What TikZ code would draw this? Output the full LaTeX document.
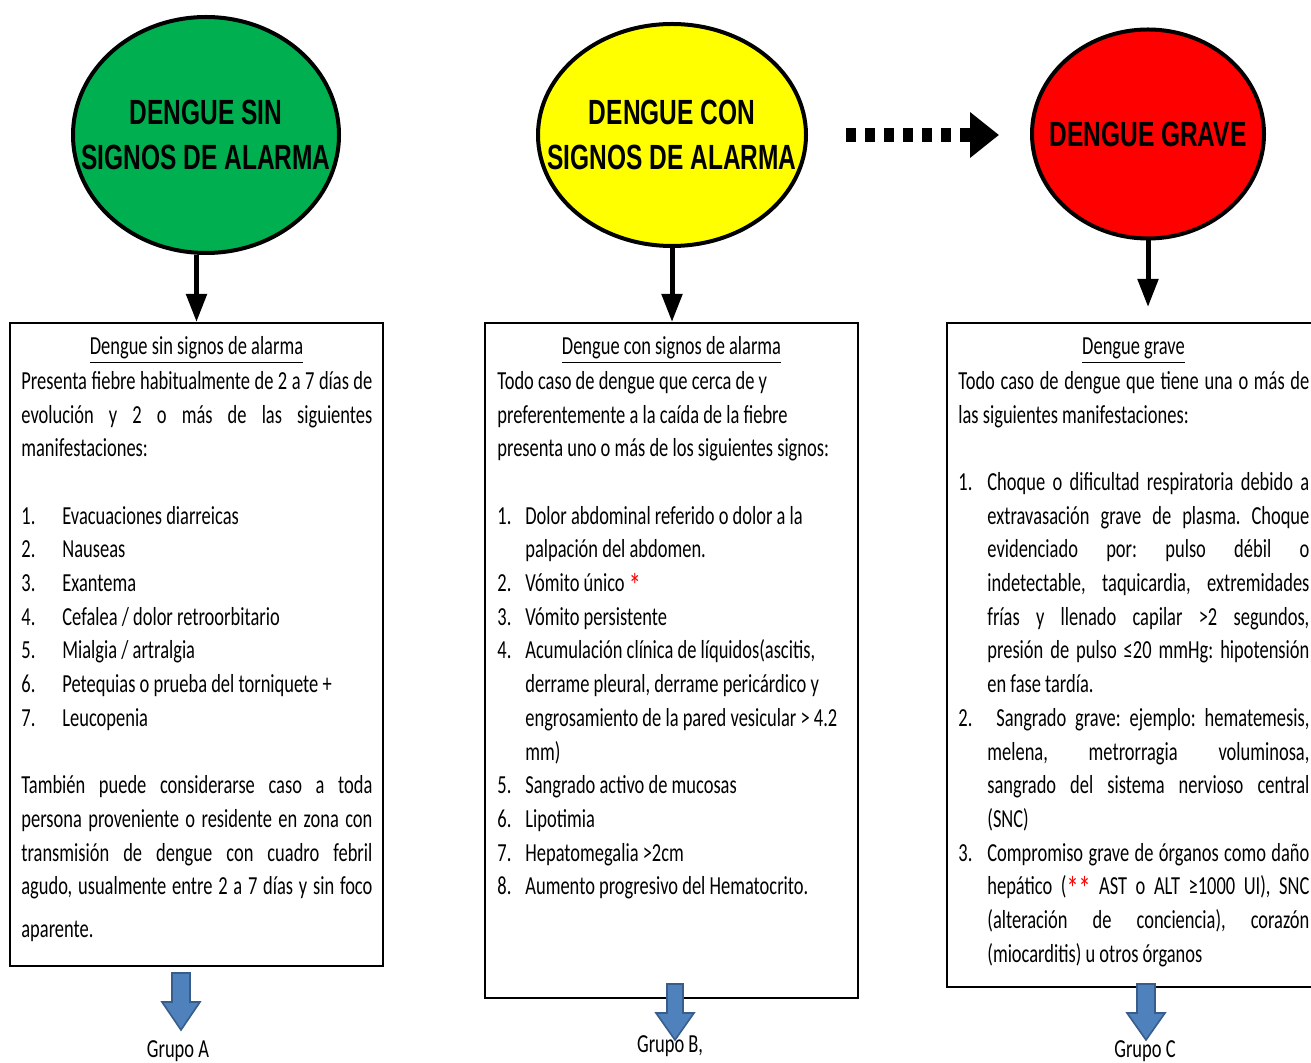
\documentclass[tikz,border=0pt]{standalone}
\usepackage{fontspec}
\setmainfont{Carlito}[FakeStretch=0.71]
\newfontfamily\rotulofont{Liberation Sans}[FakeStretch=0.70]
\usetikzlibrary{shapes.geometric, arrows.meta, positioning}

\definecolor{verdefase}{HTML}{00B050}
\definecolor{amarillofase}{HTML}{FFFF00}
\definecolor{rojofase}{HTML}{FF0000}
\definecolor{azulflecha}{HTML}{4F81BD}
\definecolor{azulborde}{HTML}{385D8A}

\setlength{\parindent}{0pt}
\frenchspacing
\newcommand{\numitem}[2]{\par\noindent\hangindent=#1\hangafter=1\makebox[#1][l]{#2}}

\begin{document}
\begin{tikzpicture}[
    x=0.5pt, y=-0.5pt,
    fase/.style={ellipse, draw=black, line width=2pt, inner sep=0pt},
    rotulo/.style={font=\rotulofont\bfseries\fontsize{17.5}{22.5}\selectfont, align=center, inner sep=0pt},
    caja/.style={rectangle, draw=black, line width=1pt, minimum width=186.5pt, inner sep=0pt, anchor=north},
    titulo/.style={font=\fontsize{13}{16.85}\selectfont, anchor=base, inner sep=0pt},
    cuerpo/.style={font={\fontsize{13}{16.85}\selectfont\hyphenpenalty=10000}, text width=175.5pt, align=justify, inner sep=0pt, anchor=north west},
    flecha/.style={line width=2.5pt, -{Triangle[width=10pt,length=14pt]}},
    flechapunteada/.style={line width=7pt, dash pattern=on 5pt off 4.5pt, -{Triangle[width=22pt,length=14.5pt]}},
    grupoflecha/.style={draw=azulborde, fill=azulflecha, line width=0.8pt, line join=miter},
    grupo/.style={font=\fontsize{13}{16.85}\selectfont, anchor=base, inner sep=0pt}
]
\useasboundingbox (0,0) rectangle (1311,1063);

% Fases
\node[fase, fill=verdefase, minimum width=133pt, minimum height=118pt] (sin) at (206,135) {};
\node[fase, fill=amarillofase, minimum width=134pt, minimum height=111pt] (con) at (672,135) {};
\node[fase, fill=rojofase, minimum width=116pt, minimum height=104.5pt] (grave) at (1148,134) {};
\node[rotulo] (sinTxt) at (sin) {DENGUE SIN\\SIGNOS DE ALARMA};
\node[rotulo] (conTxt) at (con) {DENGUE CON\\SIGNOS DE ALARMA};
\node[rotulo] (graveTxt) at (grave) {DENGUE GRAVE};

% Cajas
\node[caja, minimum height=321.5pt] (cajaA) at (196.5,322) {};
\node[caja, minimum height=337.5pt] (cajaB) at (671.5,322) {};
\node[caja, minimum height=332pt] (cajaC) at (1133.5,322) {};

\node[titulo] (tituloA) at (196.5,355) {\underline{Dengue sin signos de alarma}};
\node[titulo] (tituloB) at (671.5,355) {\underline{Dengue con signos de alarma}};
\node[titulo] (tituloC) at (1133.5,355) {\underline{Dengue grave}};

\node[cuerpo] (textoA) at (21,367) {\rule{0pt}{11pt}Presenta fiebre habitualmente de 2 a 7 días de\linebreak
evolución y 2 o más de las siguientes\linebreak
manifestaciones:\par
\vspace{16.85pt}
\numitem{20.5pt}{1.}Evacuaciones diarreicas\par
\numitem{20.5pt}{2.}Nauseas\par
\numitem{20.5pt}{3.}Exantema\par
\numitem{20.5pt}{4.}Cefalea / dolor retroorbitario\par
\numitem{20.5pt}{5.}Mialgia / artralgia\par
\numitem{20.5pt}{6.}Petequias o prueba del torniquete +\par
\numitem{20.5pt}{7.}Leucopenia\par
\vspace{16.85pt}
También puede considerarse caso a toda\linebreak
persona proveniente o residente en zona con\linebreak
transmisión de dengue con cuadro febril\linebreak
agudo, usualmente entre 2 a 7 días y sin foco\vadjust{\vskip 4.65pt}\linebreak
aparente.\par};

\node[cuerpo] (textoB) at (497,367) {\rightskip=0pt plus 1fil\relax
\rule{0pt}{11pt}Todo caso de dengue que cerca de y\linebreak
preferentemente a la caída de la fiebre\linebreak
presenta uno o más de los siguientes signos:\par
\vspace{16.85pt}
\numitem{14pt}{1.}Dolor abdominal referido o dolor a la\linebreak palpación del abdomen.\par
\numitem{14pt}{2.}Vómito único \raisebox{-3pt}{\color{red}\fontsize{17}{16.85}\selectfont*}\par
\numitem{14pt}{3.}Vómito persistente\par
\numitem{14pt}{4.}Acumulación clínica de líquidos(ascitis,\linebreak derrame pleural, derrame pericárdico y\linebreak engrosamiento de la pared vesicular > 4.2\linebreak mm)\par
\numitem{14pt}{5.}Sangrado activo de mucosas\par
\numitem{14pt}{6.}Lipotimia\par
\numitem{14pt}{7.}Hepatomegalia >2cm\par
\numitem{14pt}{8.}Aumento progresivo del Hematocrito.\par};

\node[cuerpo] (textoC) at (958,367) {\rule{0pt}{11pt}Todo caso de dengue que tiene una o más de\linebreak
las siguientes manifestaciones:\par
\vspace{16.85pt}
\numitem{14.5pt}{1.}Choque o dificultad respiratoria debido a\linebreak
extravasación grave de plasma. Choque\linebreak
evidenciado por: pulso débil o\linebreak
indetectable, taquicardia, extremidades\linebreak
frías y llenado capilar >2 segundos,\linebreak
presión de pulso ≤20 mmHg: hipotensión\linebreak
en fase tardía.\par
\numitem{14.5pt}{2.}\ Sangrado grave: ejemplo: hematemesis,\linebreak
melena, metrorragia voluminosa,\linebreak
sangrado del sistema nervioso central\linebreak
(SNC)\par
\numitem{14.5pt}{3.}Compromiso grave de órganos como daño\linebreak
hepático (\raisebox{-3pt}{\color{red}\fontsize{17}{16.85}\selectfont**} AST o ALT ≥1000 UI), SNC\linebreak
(alteración de conciencia), corazón\linebreak
(miocarditis) u otros órganos\par};

% Flechas
\draw[flecha] (sin.south -| cajaA.north) -- (cajaA.north);
\draw[flecha] (con.south) -- (con.south |- cajaB.north);
\draw[flecha, shorten >=7.5pt] (grave.south) -- (grave.south |- cajaC.north);
\draw[flechapunteada, shorten <=19pt, shorten >=15.5pt] (con.east) -- (con.east -| grave.west);

% Grupos
\node[grupo] (grupoA) at (178,1057) {Grupo A};
\node[grupo] (grupoB) at (670,1052) {Grupo B,};
\node[grupo] (grupoC) at (1145,1057) {Grupo C};

\draw[grupoflecha, shift={(181,973)}] (-9,0) -- (9,0) -- (9,29) -- (19,29) -- (0,57) -- (-19,29) -- (-9,29) -- cycle;
\draw[grupoflecha, shift={(675,984)}] (-8,0) -- (8,0) -- (8,29) -- (19,29) -- (0,56) -- (-19,29) -- (-8,29) -- cycle;
\draw[grupoflecha, shift={(1146,984)}] (-9,0) -- (9,0) -- (9,29) -- (19,29) -- (0,56) -- (-19,29) -- (-9,29) -- cycle;

\end{tikzpicture}
\end{document}
